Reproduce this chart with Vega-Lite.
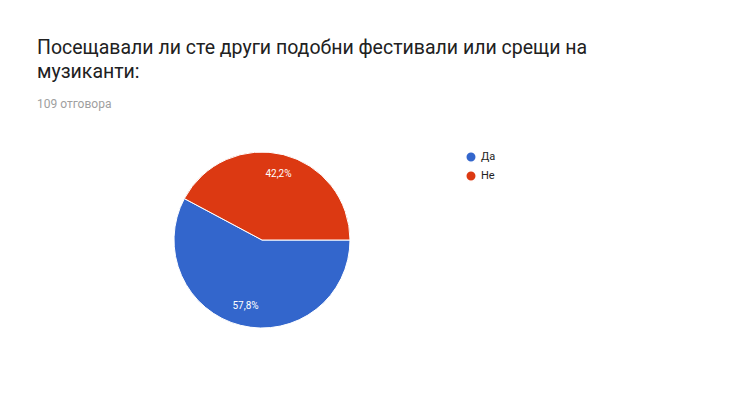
{
  "$schema": "https://vega.github.io/schema/vega-lite/v6.json",
  "autosize": {"type": "none"},
  "width": 524,
  "height": 220,
  "padding": {"left": 0, "top": 130, "right": 226, "bottom": 67},
  "background": "white",
  "title": {
    "text": ["Посещавали ли сте други подобни фестивали или срещи на", "музиканти:"],
    "subtitle": "109 отговора",
    "anchor": "start",
    "frame": "group",
    "dx": 37,
    "offset": 19,
    "font": "Roboto",
    "fontSize": 19.5,
    "fontWeight": "normal",
    "color": "#212121",
    "lineHeight": 24,
    "subtitleFont": "Roboto",
    "subtitleFontSize": 12,
    "subtitleColor": "#a0a0a0",
    "subtitlePadding": 17
  },
  "data": {
    "values": [
      {"answer": "Да", "count": 63, "label": "57,8%"},
      {"answer": "Не", "count": 46, "label": "42,2%"}
    ]
  },
  "encoding": {
    "theta": {"field": "count", "type": "quantitative", "stack": true, "scale": {"range": [1.5708, 7.854]}},
    "order": {"field": "answer", "type": "nominal", "sort": "ascending"},
    "color": {
      "field": "answer",
      "type": "nominal",
      "scale": {"domain": ["Да", "Не"], "range": ["#3366cc", "#dc3912"]},
      "legend": {
        "title": null,
        "orient": "none",
        "legendX": 465,
        "legendY": 21,
        "symbolType": "circle",
        "symbolSize": 110,
        "labelFont": "Roboto",
        "labelFontSize": 11,
        "labelColor": "#222222",
        "rowPadding": 1
      }
    }
  },
  "layer": [
    {"mark": {"type": "arc", "outerRadius": 88, "stroke": "white", "strokeWidth": 1}},
    {
      "mark": {"type": "text", "radius": 68, "font": "Roboto", "fontSize": 10, "color": "white"},
      "encoding": {"text": {"field": "label"}, "color": {"value": "white"}, "detail": {"field": "answer"}}
    }
  ]
}
